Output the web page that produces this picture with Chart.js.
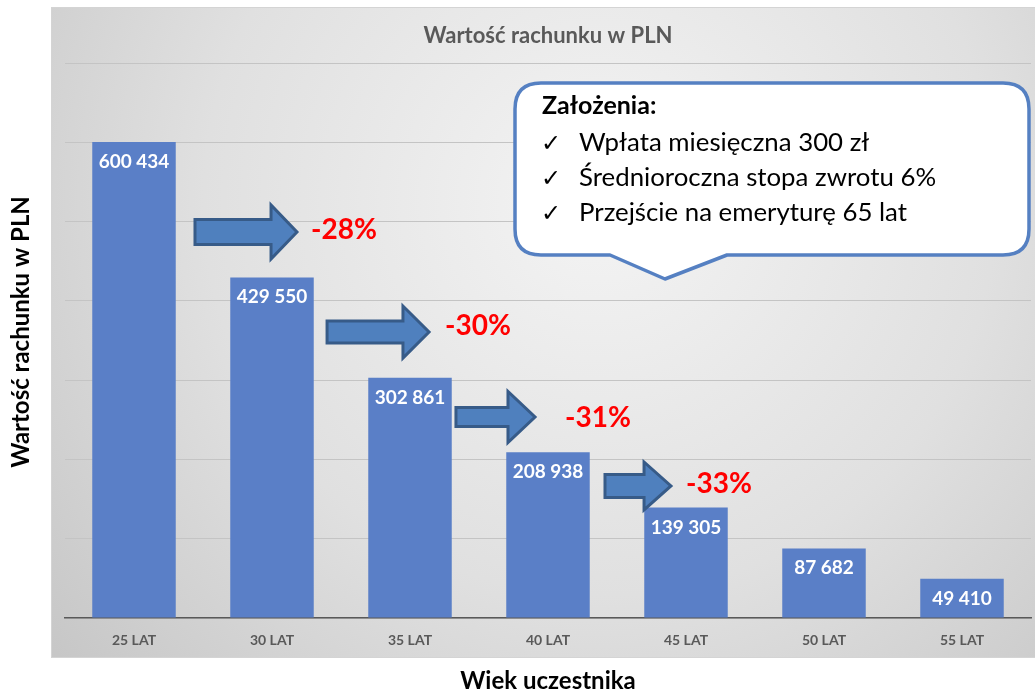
<!DOCTYPE html>
<html><head><meta charset="utf-8">
<script src="https://cdn.jsdelivr.net/npm/chart.js@4.4.1/dist/chart.umd.min.js"></script>
<style>html,body{margin:0;padding:0;background:#fff;overflow:hidden}canvas{display:block}</style>
</head><body>
<canvas id="c" width="1035" height="692"></canvas>
<script>
// ---- data ----
const categories = ['25 LAT','30 LAT','35 LAT','40 LAT','45 LAT','50 LAT','55 LAT'];
const values = [600434, 429550, 302861, 208938, 139305, 87682, 49410];
const valueLabels = ['600 434','429 550','302 861','208 938','139 305','87 682','49 410'];
const dropLabels = ['-28%','-30%','-31%','-33%'];
// annotation anchors in data units (x: category index, y: value)
const arrowStartX = [0.442, 1.399, 2.333, 3.413];
const arrowHeadX  = [0.993, 1.949, 2.710, 3.696];
const arrowTipX   = [1.181, 2.138, 2.906, 3.891];
const arrowY      = [486800, 360700, 253500, 166500];
const dropLabelX  = [1.283, 2.254, 3.123, 4.000];
const dropLabelY  = [490600, 369500, 252900, 170900];
const chartTitle = 'Wartość rachunku w PLN';
const yTitle = 'Wartość rachunku w PLN';
const xTitle = 'Wiek uczestnika';
const assumptionsTitle = 'Założenia:';
const assumptions = ['Wpłata miesięczna 300 zł', 'Średnioroczna stopa zwrotu 6%', 'Przejście na emeryturę 65 lat'];

const FONT = 'Lato, "Open Sans", sans-serif';

const bgPlugin = {
  id: 'bg',
  beforeDraw(chart) {
    const c = chart.ctx;
    c.save();
    c.fillStyle = '#ffffff';
    c.fillRect(0, 0, chart.width, chart.height);
    const g = c.createRadialGradient(600, 200, 0, 600, 200, 720);
    g.addColorStop(0, '#f4f4f4');
    g.addColorStop(0.55, '#e0e0e0');
    g.addColorStop(1, '#c6c6c6');
    c.fillStyle = g;
    c.fillRect(51, 7, 990, 651);
    c.strokeStyle = '#d4d4d4';
    c.lineWidth = 1;
    c.strokeRect(51.5, 7.5, 990, 650);
    c.restore();
  }
};

function drawArrow(c, x0, xh, xt, yc, bh, hh) {
  c.beginPath();
  c.moveTo(x0, yc - bh);
  c.lineTo(xh, yc - bh);
  c.lineTo(xh, yc - hh);
  c.lineTo(xt, yc);
  c.lineTo(xh, yc + hh);
  c.lineTo(xh, yc + bh);
  c.lineTo(x0, yc + bh);
  c.closePath();
  c.fillStyle = '#4f80be';
  c.fill();
  c.lineWidth = 3;
  c.lineJoin = 'miter';
  c.strokeStyle = '#375b88';
  c.stroke();
}

const overlayPlugin = {
  id: 'overlay',
  afterDatasetsDraw(chart) {
    const c = chart.ctx;
    const xs = chart.scales.x, ys = chart.scales.y;
    const ca = chart.chartArea;
    const catW = (ca.right - ca.left) / categories.length;
    const px = v => xs.getPixelForValue(0) + v * catW;
    c.save();
    // value labels inside bars
    const meta = chart.getDatasetMeta(0);
    c.fillStyle = '#ffffff';
    c.font = 'bold 19px ' + FONT;
    c.textAlign = 'center';
    c.textBaseline = 'alphabetic';
    meta.data.forEach((bar, i) => {
      c.fillText(valueLabels[i], bar.x, bar.y + 26);
    });
    // arrows
    const sizes = [[12.5, 27], [11, 26], [9.5, 25.5], [11.5, 24]];
    for (let i = 0; i < arrowY.length; i++) {
      drawArrow(c, px(arrowStartX[i]), px(arrowHeadX[i]), px(arrowTipX[i]), ys.getPixelForValue(arrowY[i]), sizes[i][0], sizes[i][1]);
    }
    // drop labels
    c.fillStyle = '#ff0000';
    c.font = 'bold 28px ' + FONT;
    c.textAlign = 'left';
    for (let i = 0; i < dropLabels.length; i++) {
      c.fillText(dropLabels[i], px(dropLabelX[i]), ys.getPixelForValue(dropLabelY[i]) + 10);
    }
    // chart title
    c.fillStyle = '#595959';
    c.font = 'bold 22px ' + FONT;
    c.textAlign = 'center';
    c.fillText(chartTitle, (ca.left + ca.right) / 2, 43);
    // y title
    c.save();
    c.translate(29, 332);
    c.rotate(-Math.PI / 2);
    c.fillStyle = '#000000';
    c.font = 'bold 24px ' + FONT;
    c.fillText(yTitle, 0, 0);
    c.restore();
    // x title
    c.fillStyle = '#000000';
    c.font = 'bold 24px ' + FONT;
    c.fillText(xTitle, (ca.left + ca.right) / 2, 689);
    // callout
    const L = 515, R = 1029, T = 83, B = 255, r = 26;
    c.beginPath();
    c.moveTo(L + r, T);
    c.lineTo(R - r, T);
    c.quadraticCurveTo(R, T, R, T + r);
    c.lineTo(R, B - r);
    c.quadraticCurveTo(R, B, R - r, B);
    c.lineTo(727, B);
    c.lineTo(665, 279);
    c.lineTo(610, B);
    c.lineTo(L + r, B);
    c.quadraticCurveTo(L, B, L, B - r);
    c.lineTo(L, T + r);
    c.quadraticCurveTo(L, T, L + r, T);
    c.closePath();
    c.fillStyle = '#ffffff';
    c.fill();
    c.lineWidth = 3.5;
    c.lineJoin = 'round';
    c.strokeStyle = '#5580c2';
    c.stroke();
    c.fillStyle = '#000000';
    c.textAlign = 'left';
    c.font = 'bold 25px ' + FONT;
    c.fillText(assumptionsTitle, 542, 114);
    assumptions.forEach((t, i) => {
      const by = 151 + i * 35;
      c.font = '24px "DejaVu Sans", sans-serif';
      c.fillText('\u2713', 541, by);
      c.font = '25.8px ' + FONT;
      c.fillText(t, 579, by);
    });
    c.restore();
  }
};

new Chart(document.getElementById('c').getContext('2d'), {
  type: 'bar',
  data: {
    labels: categories,
    datasets: [{ data: values, backgroundColor: '#5a7fc7', barPercentage: 0.605, categoryPercentage: 1, borderWidth: 0 }]
  },
  options: {
    responsive: false,
    animation: false,
    layout: { padding: { left: 65, top: 63, right: 4, bottom: 0 } },
    plugins: { legend: { display: false }, tooltip: { enabled: false }, title: { display: false } },
    scales: {
      x: {
        grid: { display: false, drawTicks: false },
        border: { display: true, color: '#595959', width: 1.5 },
        ticks: { color: '#595959', font: { family: FONT, weight: 'bold', size: 14 }, padding: 14 },
        afterFit(s) { s.height = 74; }
      },
      y: {
        min: 0, max: 700000,
        ticks: { display: false, stepSize: 100000 },
        grid: { color: '#c4c4c4', drawTicks: false, lineWidth: 1 },
        border: { display: false },
        afterFit(s) { s.width = 0; }
      }
    }
  },
  plugins: [bgPlugin, overlayPlugin]
});
</script>
</body></html>
